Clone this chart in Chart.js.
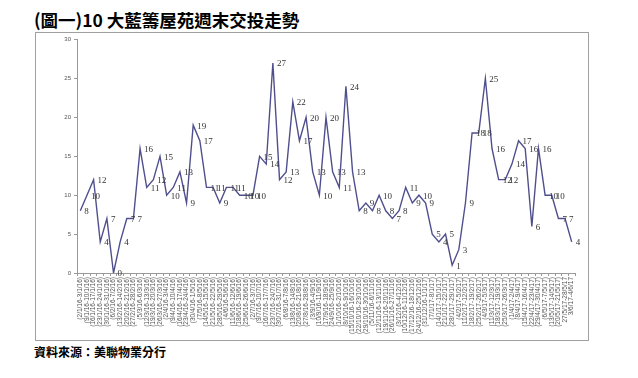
<!DOCTYPE html>
<html lang="zh-Hant">
<head>
    <meta charset="UTF-8">
    <script src="https://cdn.jsdelivr.net/npm/chart.js@4.4.1/dist/chart.umd.min.js"></script>
    <title>10 大藍籌屋苑週末交投走勢</title>
    <style>
        html, body {
            margin: 0;
            padding: 0;
            background: #fff;
            width: 638px;
            height: 378px;
            overflow: hidden;
        }

        .title {
            position: absolute;
            left: 34px;
            top: 7px;
            font-family: "Noto Sans CJK TC", sans-serif;
            font-weight: bold;
            font-size: 17.5px;
            color: #000;
            white-space: nowrap;
        }

        #chart-box {
            position: absolute;
            left: 35px;
            top: 32px;
            width: 552px;
            height: 307px;
            border: 1px solid #a0a0a0;
        }

        .source {
            position: absolute;
            left: 34px;
            top: 343px;
            font-family: "Noto Sans CJK TC", sans-serif;
            font-weight: bold;
            font-size: 12px;
            color: #000;
        }
    </style>
</head>

<body>
    <div class="title">(圖一)10 大藍籌屋苑週末交投走勢</div>
    <div id="chart-box">
        <canvas id="weekendChart"></canvas>
    </div>
    <div class="source">資料來源：美聯物業分行</div>
    <script>
        // 週末 (d/m/yy)
        const weekends = [
            '(2/1/16-3/1/16)', '(9/1/16-10/1/16)', '(16/1/16-17/1/16)', '(23/1/16-24/1/16)',
            '(30/1/16-31/1/16)', '(6/2/16-7/2/16)', '(13/2/16-14/2/16)', '(20/2/16-21/2/16)',
            '(27/2/16-28/2/16)', '(5/3/16-6/3/16)', '(12/3/16-13/3/16)', '(19/3/16-20/3/16)',
            '(26/3/16-27/3/16)', '(2/4/16-3/4/16)', '(9/4/16-10/4/16)', '(16/4/16-17/4/16)',
            '(23/4/16-24/4/16)', '(30/4/16-1/5/16)', '(7/5/16-8/5/16)', '(14/5/16-15/5/16)',
            '(21/5/16-22/5/16)', '(28/5/16-29/5/16)', '(4/6/16-5/6/16)', '(11/6/16-12/6/16)',
            '(18/6/16-19/6/16)', '(25/6/16-26/6/16)', '(2/7/16-3/7/16)', '(9/7/16-10/7/16)',
            '(16/7/16-17/7/16)', '(23/7/16-24/7/16)', '(30/7/16-31/7/16)', '(6/8/16-7/8/16)',
            '(13/8/16-14/8/16)', '(20/8/16-21/8/16)', '(27/8/16-28/8/16)', '(3/9/16-4/9/16)',
            '(10/9/16-11/9/16)', '(17/9/16-18/9/16)', '(24/9/16-25/9/16)', '(1/10/16-2/10/16)',
            '(8/10/16-9/10/16)', '(15/10/16-16/10/16)', '(22/10/16-23/10/16)', '(29/10/16-30/10/16)',
            '(5/11/16-6/11/16)', '(12/11/16-13/11/16)', '(19/11/16-20/11/16)', '(26/11/16-27/11/16)',
            '(3/12/16-4/12/16)', '(10/12/16-11/12/16)', '(17/12/16-18/12/16)', '(24/12/16-25/12/16)',
            '(31/12/16-1/1/17)', '(7/1/17-8/1/17)', '(14/1/17-15/1/17)', '(21/1/17-22/1/17)',
            '(28/1/17-29/1/17)', '(4/2/17-5/2/17)', '(11/2/17-12/2/17)', '(18/2/17-19/2/17)',
            '(25/2/17-26/2/17)', '(4/3/17-5/3/17)', '(11/3/17-12/3/17)', '(18/3/17-19/3/17)',
            '(25/3/17-26/3/17)', '(1/4/17-2/4/17)', '(8/4/17-9/4/17)', '(15/4/17-16/4/17)',
            '(22/4/17-23/4/17)', '(29/4/17-30/4/17)', '(6/5/17-7/5/17)', '(13/5/17-14/5/17)',
            '(20/5/17-21/5/17)', '27/5/17-28/5/17', '3/6/17-4/6/17'
        ];

        // 成交宗數
        const deals = [
            8, 10, 12, 4, 7, 0, 4, 7, 7, 16, 11, 12, 15, 10, 11, 13, 9, 19, 17, 11,
            11, 9, 11, 11, 10, 10, 10, 15, 14, 27, 12, 13, 22, 17, 20, 13, 10, 20, 13, 11,
            24, 13, 8, 9, 8, 10, 8, 7, 8, 11, 9, 10, 9, 5, 4, 5, 1, 3, 9, 18,
            18, 25, 16, 12, 12, 14, 17, 16, 6, 16, 10, 10, 7, 7, 4
        ];

        const yTicks = [0, 5, 10, 15, 20, 25, 30];

        // simple data label plugin (value to the right of each point)
        const pointLabels = {
            id: 'pointLabels',
            afterDatasetsDraw(chart) {
                const ctx = chart.ctx;
                const meta = chart.getDatasetMeta(0);
                ctx.save();
                ctx.font = '9px "Liberation Serif", serif';
                ctx.fillStyle = '#333';
                ctx.textAlign = 'left';
                ctx.textBaseline = 'middle';
                meta.data.forEach((pt, i) => {
                    ctx.fillText(String(deals[i]), pt.x + 4, pt.y + 1);
                });
                ctx.restore();
            }
        };

        new Chart(document.getElementById('weekendChart'), {
            type: 'line',
            data: {
                labels: weekends,
                datasets: [{
                    data: deals,
                    borderColor: '#4f4f8e',
                    borderWidth: 1.4,
                    pointRadius: 0,
                    tension: 0,
                    fill: false
                }]
            },
            options: {
                responsive: true,
                maintainAspectRatio: false,
                animation: false,
                layout: { padding: { top: 5, right: 13, left: 0, bottom: 0 } },
                plugins: {
                    legend: { display: false },
                    tooltip: { enabled: false }
                },
                scales: {
                    x: {
                        offset: true,
                        grid: {
                            offset: true,
                            drawOnChartArea: false,
                            drawTicks: true,
                            tickLength: 3,
                            color: '#999'
                        },
                        border: { color: '#999' },
                        ticks: {
                            autoSkip: false,
                            maxRotation: 90,
                            minRotation: 90,
                            padding: 1,
                            color: '#555',
                            font: { family: 'Arial, "Liberation Sans", sans-serif', size: 6.5 }
                        },
                        afterFit: scale => { scale.height = 67; }
                    },
                    y: {
                        min: 0,
                        max: 30,
                        afterBuildTicks: scale => {
                            scale.ticks = yTicks.map(v => ({ value: v }));
                        },
                        grid: {
                            drawOnChartArea: false,
                            drawTicks: true,
                            tickLength: 3,
                            color: '#999'
                        },
                        border: { color: '#999' },
                        ticks: {
                            padding: 3,
                            color: '#555',
                            font: { family: 'Arial, "Liberation Sans", sans-serif', size: 6 }
                        },
                        afterFit: scale => { scale.width = 41; }
                    }
                }
            },
            plugins: [pointLabels]
        });
    </script>
</body>
</html>
